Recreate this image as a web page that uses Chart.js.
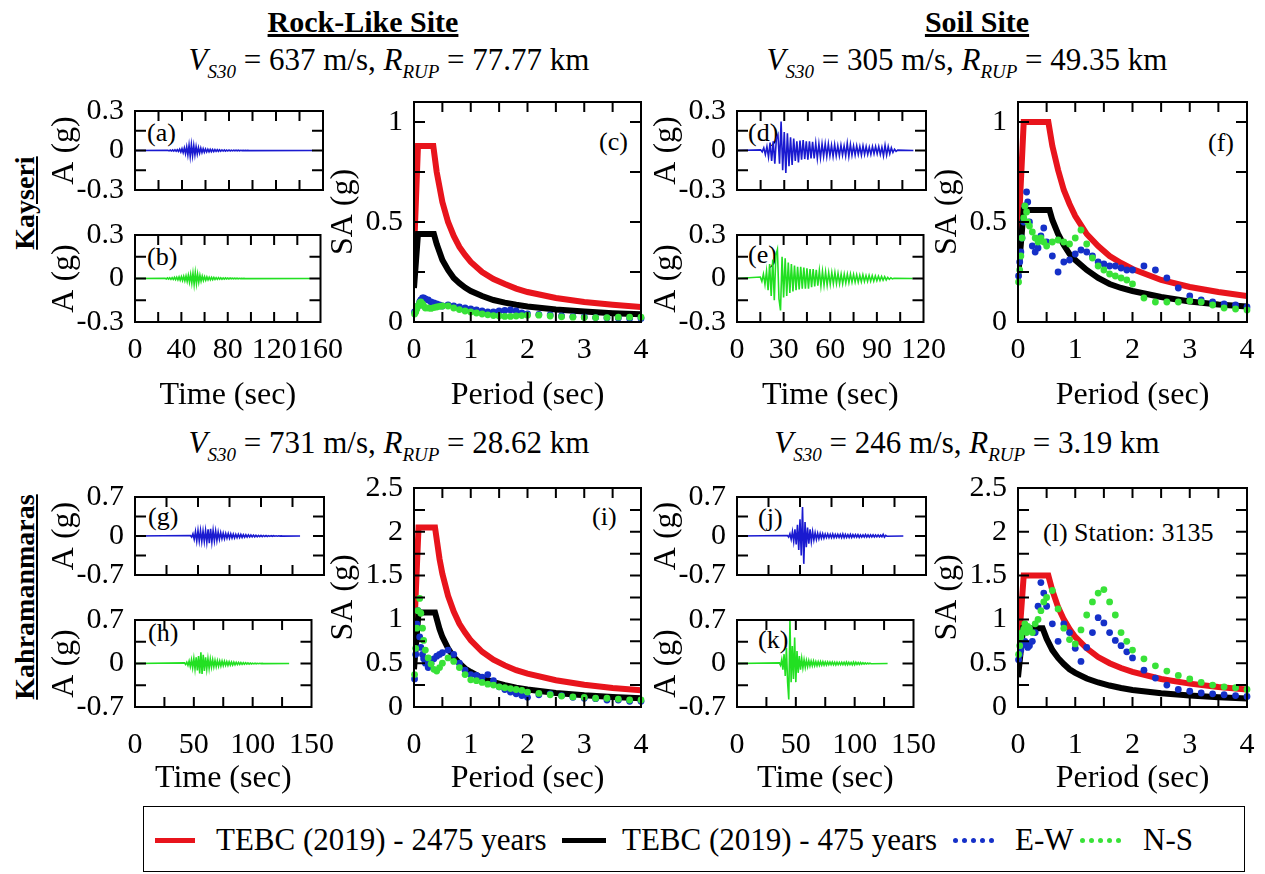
<!DOCTYPE html>
<html>
<head>
<meta charset="utf-8">
<script src="https://cdn.jsdelivr.net/npm/chart.js@4.4.1/dist/chart.umd.min.js"></script>
<style>
  body { margin: 0; background: #fff; }
  #fig { position: relative; width: 1265px; height: 874px; overflow: hidden;
         font-family: "Liberation Serif", "Times New Roman", serif; color: #000; }
  #fig canvas { position: absolute; }
  .t { position: absolute; white-space: nowrap; font-size: 31px; line-height: 36px; }
  .c { width: 800px; text-align: center; }
  .head { font-weight: bold; text-decoration: underline; font-size: 30px; }
  .s { font-size: 19px; position: relative; top: 8px; }
  .pl { position: absolute; white-space: nowrap; font-size: 26px; line-height: 34px; }
  .row { position: absolute; white-space: nowrap; font-size: 28px; line-height: 34px; font-weight: bold;
         text-decoration: underline; transform: translate(-50%, -50%) rotate(-90deg); }
  .lg { position: absolute; white-space: nowrap; font-size: 31px; line-height: 36px; top: 822px; }
  .dot { position: absolute; width: 5px; height: 5px; border-radius: 50%; top: 838px; }
</style>
</head>
<body>
<div id="fig">
  <div class="t head c" style="left:-37px;top:4px">Rock-Like Site</div>
  <div class="t head c" style="left:577px;top:4px">Soil Site</div>
  <div class="t c" style="left:-11px;top:42px"><i>V</i><span class="s"><i>S30</i></span> = 637 m/s, <i>R</i><span class="s"><i>RUP</i></span> = 77.77 km</div>
  <div class="t c" style="left:567px;top:42px"><i>V</i><span class="s"><i>S30</i></span> = 305 m/s, <i>R</i><span class="s"><i>RUP</i></span> = 49.35 km</div>
  <div class="t c" style="left:-11px;top:425px"><i>V</i><span class="s"><i>S30</i></span> = 731 m/s, <i>R</i><span class="s"><i>RUP</i></span> = 28.62 km</div>
  <div class="t c" style="left:567px;top:425px"><i>V</i><span class="s"><i>S30</i></span> = 246 m/s, <i>R</i><span class="s"><i>RUP</i></span> = 3.19 km</div>

  <div class="row" style="left:25px;top:203px">Kayseri</div>
  <div class="row" style="left:25px;top:597px">Kahramanmaras</div>

  <div class="pl" style="left:147px;top:116px">(a)</div>
  <div class="pl" style="left:147px;top:240px">(b)</div>
  <div class="pl" style="left:599px;top:125px">(c)</div>
  <div class="pl" style="left:748px;top:116px">(d)</div>
  <div class="pl" style="left:748px;top:238px">(e)</div>
  <div class="pl" style="left:1208px;top:126px">(f)</div>
  <div class="pl" style="left:148px;top:500px">(g)</div>
  <div class="pl" style="left:148px;top:616px">(h)</div>
  <div class="pl" style="left:592px;top:500px">(i)</div>
  <div class="pl" style="left:758px;top:501px">(j)</div>
  <div class="pl" style="left:758px;top:623px">(k)</div>
  <div class="pl" style="left:1043px;top:516px">(l) Station: 3135</div>

  <div style="position:absolute;left:143px;top:806px;width:1100px;height:64px;border:1.5px solid #000"></div>
  <div style="position:absolute;left:155px;top:838px;width:40px;height:5px;background:#e8141c"></div>
  <div class="lg" style="left:216px">TEBC (2019) - 2475 years</div>
  <div style="position:absolute;left:562px;top:838px;width:44px;height:5px;background:#000"></div>
  <div class="lg" style="left:622px">TEBC (2019) - 475 years</div>
  <div class="dot" style="left:953px;background:#1530c8"></div>
  <div class="dot" style="left:962px;background:#1530c8"></div>
  <div class="dot" style="left:971px;background:#1530c8"></div>
  <div class="dot" style="left:980px;background:#1530c8"></div>
  <div class="dot" style="left:989px;background:#1530c8"></div>
  <div class="lg" style="left:1015px">E-W</div>
  <div class="dot" style="left:1080px;background:#38e238"></div>
  <div class="dot" style="left:1089px;background:#38e238"></div>
  <div class="dot" style="left:1098px;background:#38e238"></div>
  <div class="dot" style="left:1107px;background:#38e238"></div>
  <div class="dot" style="left:1116px;background:#38e238"></div>
  <div class="lg" style="left:1143px">N-S</div>
</div>
<script>
// ---- acceleration records (g), one value per second from the start time ----
const dtAcc = 1;

const startA = 28, endA = 151;
const accA = [0.002,-0.003,0.003,-0.004,0.004,-0.005,0.005,-0.006,0.006,-0.007,
  0.01,-0.012,0.014,-0.016,0.02,-0.024,0.028,-0.034,0.04,-0.045,
  0.045,-0.04,0.038,-0.034,0.03,-0.026,0.022,-0.02,0.018,-0.016,
  0.014,-0.013,0.012,-0.011,0.01,-0.01,0.009,-0.009,0.008,-0.008,
  0.007,-0.007,0.006,-0.006,0.006,-0.005,0.005,-0.005,0.005,-0.004,
  0.004,-0.004,0.004,-0.003,0.003,-0.003,0.003,-0.002,0.002,-0.002,
  0.002,-0.002,0.002,-0.001,0.001,-0.001,0.001,-0.001,0.001,-0.001];

const startB = 26, endB = 151;
const accB = [0.002,-0.003,0.004,-0.004,0.005,-0.006,0.006,-0.007,0.008,-0.008,
  0.009,-0.01,0.011,-0.012,0.013,-0.014,0.015,-0.016,0.018,-0.02,
  0.022,-0.025,0.028,-0.032,0.036,-0.04,0.04,-0.036,0.03,-0.026,
  0.022,-0.019,0.016,-0.014,0.013,-0.012,0.011,-0.01,0.009,-0.009,
  0.008,-0.008,0.007,-0.007,0.006,-0.006,0.006,-0.005,0.005,-0.005,
  0.004,-0.004,0.004,-0.003,0.003,-0.003,0.003,-0.002,0.002,-0.002,
  0.002,-0.002,0.002,-0.002,0.001,-0.001,0.001,-0.001,0.001,-0.001];

const startD = 15, endD = 112;
const accD = [0.005,-0.01,0.02,-0.03,0.03,
  -0.05,0.06,-0.08,0.07,-0.1,0.09,
  0.12,-0.1,0.22,-0.15,0.14,-0.17,0.13,-0.12,0.1,-0.11,
  0.09,-0.08,0.07,-0.09,0.075,-0.07,0.08,-0.065,0.07,-0.07,
  0.07,-0.06,0.065,-0.06,0.055,-0.06,0.05,-0.055,0.05,-0.045,
  0.05,-0.045,0.05,-0.04,0.04,-0.045,0.045,-0.04,0.035,-0.04,
  0.04,-0.035,0.035,-0.04,0.055,-0.045,0.045,-0.035,0.035,-0.035,
  0.035,-0.03,0.03,-0.035,0.035,-0.03,0.03,-0.03,0.025,-0.03,
  0.03,-0.025,0.03,-0.025,0.03,-0.03,0.025,-0.04,0.04,-0.035,
  0.03,-0.025,0.02,-0.015,0.01,-0.006,0.003];

const startE = 15, endE = 113;
const accE = [0.01,-0.02,0.03,-0.04,0.05,
  -0.08,0.1,-0.12,0.13,-0.15,0.16,
  0.2,-0.14,-0.22,0.15,-0.13,0.14,-0.12,0.11,-0.1,0.1,
  -0.09,0.09,-0.08,0.08,-0.075,0.08,-0.07,0.075,-0.07,0.07,
  -0.07,0.065,-0.06,0.065,-0.055,0.06,-0.05,0.055,-0.05,0.05,
  -0.045,0.045,-0.045,0.04,-0.04,0.04,-0.035,0.04,-0.035,0.035,
  -0.035,0.03,-0.035,0.03,-0.03,0.03,-0.028,0.03,-0.025,0.028,
  -0.025,0.025,-0.025,0.022,-0.022,0.025,-0.02,0.02,-0.02,0.022,
  -0.018,0.02,-0.018,0.018,-0.015,0.016,-0.014,0.014,-0.012,0.012,
  -0.01,0.008,-0.006,0.005,-0.003,0.002];

const startG = 44, endG = 131;
const accG = [0.01,-0.02,0.04,-0.06,
  0.08,-0.09,0.1,-0.09,0.1,-0.1,0.09,-0.1,0.1,-0.11,
  0.12,-0.13,0.13,-0.11,0.1,-0.09,0.09,-0.08,0.07,-0.06,
  0.06,-0.05,0.05,-0.05,0.045,-0.04,0.045,-0.04,0.04,-0.035,
  0.035,-0.035,0.03,-0.03,0.03,-0.028,0.028,-0.025,0.025,-0.022,
  0.022,-0.02,0.02,-0.018,0.018,-0.016,0.016,-0.015,0.014,-0.013,
  0.012,-0.012,0.011,-0.01,0.01,-0.009,0.008,-0.008,0.007,-0.006,
  0.006,-0.005,0.005,-0.004,0.004,-0.003,0.003,-0.002,0.002,-0.002];

const startH = 42, endH = 131;
const accH = [0.01,-0.015,0.02,-0.03,0.04,-0.05,0.06,-0.07,
  0.08,-0.09,0.1,-0.11,0.12,-0.16,0.18,-0.17,0.14,-0.12,
  0.1,-0.09,0.08,-0.08,0.07,-0.06,0.06,-0.055,0.05,-0.05,
  0.045,-0.045,0.04,-0.04,0.04,-0.035,0.035,-0.03,0.03,-0.03,
  0.028,-0.026,0.025,-0.024,0.022,-0.02,0.02,-0.018,0.017,-0.016,
  0.015,-0.014,0.013,-0.012,0.011,-0.01,0.01,-0.009,0.008,-0.007,
  0.006,-0.006,0.005,-0.004,0.004,-0.003,0.003,-0.002,0.002,-0.002];

const startJ = 40, endJ = 132;
const accJ = [0.01,-0.02,0.04,-0.06,0.08,-0.1,0.12,-0.15,0.2,-0.25,
  0.3,-0.35,0.52,-0.5,0.25,-0.2,0.15,-0.14,0.12,-0.1,
  0.08,-0.07,0.06,-0.06,0.05,-0.05,0.045,-0.04,0.04,-0.04,
  0.035,-0.03,0.035,-0.03,0.03,-0.03,0.035,-0.03,0.03,-0.025,
  0.03,-0.025,0.03,-0.03,0.035,-0.03,0.03,-0.025,0.025,-0.025,
  0.03,-0.025,0.025,-0.02,0.025,-0.02,0.025,-0.025,0.02,-0.02,
  0.02,-0.02,0.025,-0.02,0.02,-0.02,0.02,-0.018,0.02,-0.018,
  0.018,-0.015,0.02,-0.015,0.015,-0.015,0.03,-0.02,0.01,-0.005];

const startK = 36, endK = 128;
const accK = [0.01,-0.03,0.06,-0.1,0.15,-0.2,0.25,-0.3,-0.58,0.7,
  -0.3,0.28,-0.25,0.42,-0.3,0.2,-0.15,0.12,-0.1,0.08,
  -0.07,0.06,-0.06,0.05,-0.05,0.045,-0.04,0.04,-0.035,0.04,
  -0.035,0.03,-0.035,0.03,-0.03,0.03,-0.025,0.03,-0.025,0.025,
  -0.025,0.025,-0.02,0.025,-0.02,0.025,-0.02,0.02,-0.025,0.02,
  -0.02,0.02,-0.02,0.02,-0.018,0.02,-0.02,0.025,-0.02,0.02,
  -0.018,0.018,-0.02,0.025,-0.02,0.02,-0.015,0.015,-0.015,0.015,
  -0.012,0.012,-0.01,0.01,-0.008,0.008,-0.005,0.005,-0.003];

// ---- response spectra (SA in g vs period in s) ----
const obsPeriods = [0.01,0.03,0.05,0.07,0.1,0.12,0.15,0.17,0.2,0.25,0.3,0.35,0.4,0.45,0.5,
  0.6,0.7,0.8,0.9,1.0,1.1,1.2,1.3,1.4,1.5,1.6,1.7,1.8,1.9,2.0,
  2.2,2.4,2.6,2.8,3.0,3.2,3.4,3.6,3.8,4.0];

// (c) Kayseri rock
const tRedC = [0,0.07,0.34,0.4,0.5,0.6,0.7,0.8,0.9,1.0,1.2,1.4,1.6,1.8,2.0,2.5,3.0,3.5,4.0];
const saRedC = [0.35,0.88,0.88,0.75,0.6,0.5,0.43,0.375,0.335,0.3,0.25,0.215,0.19,0.167,0.15,0.12,0.1,0.086,0.075];
const tBlkC = [0,0.07,0.35,0.4,0.5,0.6,0.7,0.8,0.9,1.0,1.2,1.4,1.6,1.8,2.0,2.5,3.0,3.5,4.0];
const saBlkC = [0.17,0.44,0.44,0.39,0.31,0.26,0.22,0.194,0.172,0.155,0.13,0.11,0.097,0.086,0.078,0.062,0.052,0.044,0.039];
const ewC = [0.05,0.055,0.07,0.08,0.1,0.11,0.12,0.12,0.115,0.11,0.1,0.095,0.09,0.085,0.08,
  0.085,0.08,0.075,0.07,0.065,0.06,0.055,0.05,0.05,0.055,0.058,0.06,0.055,0.045,0.04,
  0.038,0.035,0.03,0.027,0.025,0.022,0.02,0.02,0.018,0.018];
const nsC = [0.04,0.05,0.065,0.08,0.095,0.1,0.09,0.08,0.07,0.07,0.068,0.072,0.075,0.078,0.08,
  0.08,0.07,0.062,0.055,0.05,0.045,0.04,0.036,0.032,0.03,0.028,0.028,0.03,0.032,0.034,
  0.034,0.03,0.026,0.024,0.022,0.022,0.022,0.024,0.024,0.024];

// (f) Kayseri soil
const tRedF = [0,0.1,0.53,0.6,0.7,0.8,0.9,1.0,1.2,1.4,1.6,1.8,2.0,2.5,3.0,3.5,4.0];
const saRedF = [0.4,1.0,1.0,0.88,0.76,0.66,0.59,0.53,0.44,0.38,0.33,0.295,0.265,0.21,0.175,0.15,0.13];
const tBlkF = [0,0.1,0.55,0.6,0.7,0.8,0.9,1.0,1.2,1.4,1.6,1.8,2.0,2.5,3.0,3.5,4.0];
const saBlkF = [0.22,0.56,0.56,0.51,0.44,0.385,0.34,0.31,0.26,0.22,0.19,0.17,0.155,0.125,0.103,0.088,0.077];
const ewF = [0.23,0.3,0.35,0.42,0.5,0.58,0.65,0.6,0.5,0.38,0.35,0.37,0.43,0.47,0.4,
  0.33,0.25,0.3,0.31,0.34,0.36,0.35,0.33,0.3,0.29,0.28,0.28,0.27,0.26,0.26,
  0.28,0.26,0.22,0.17,0.13,0.11,0.1,0.09,0.085,0.075];
const nsF = [0.2,0.26,0.33,0.42,0.52,0.58,0.55,0.5,0.48,0.45,0.42,0.4,0.42,0.4,0.38,
  0.4,0.41,0.4,0.39,0.42,0.46,0.39,0.32,0.28,0.26,0.24,0.23,0.22,0.21,0.19,
  0.12,0.1,0.1,0.1,0.105,0.1,0.085,0.07,0.065,0.06];

// (i) Kahramanmaras rock
const tRedI = [0,0.08,0.37,0.45,0.5,0.6,0.7,0.8,0.9,1.0,1.2,1.4,1.6,1.8,2.0,2.5,3.0,3.5,4.0];
const saRedI = [0.82,2.05,2.05,1.69,1.52,1.27,1.09,0.95,0.85,0.76,0.63,0.54,0.475,0.42,0.38,0.305,0.255,0.217,0.19];
const tBlkI = [0,0.08,0.37,0.45,0.5,0.6,0.7,0.8,0.9,1.0,1.2,1.4,1.6,1.8,2.0,2.5,3.0,3.5,4.0];
const saBlkI = [0.43,1.08,1.08,0.89,0.8,0.67,0.57,0.5,0.44,0.4,0.33,0.285,0.25,0.22,0.2,0.16,0.133,0.114,0.1];
const ewI = [0.32,0.6,0.95,1.1,0.8,0.68,0.6,0.55,0.5,0.45,0.5,0.55,0.58,0.6,0.62,
  0.65,0.6,0.5,0.42,0.37,0.36,0.34,0.37,0.3,0.23,0.2,0.17,0.15,0.13,0.11,
  0.14,0.15,0.13,0.11,0.1,0.095,0.08,0.08,0.065,0.065];
const nsI = [0.37,0.67,0.9,1.1,1.24,1.07,0.9,0.76,0.65,0.56,0.49,0.43,0.41,0.45,0.5,
  0.56,0.52,0.45,0.37,0.31,0.3,0.28,0.26,0.25,0.23,0.22,0.21,0.2,0.19,0.17,
  0.155,0.14,0.125,0.115,0.11,0.1,0.1,0.09,0.08,0.08];

// (l) Kahramanmaras soil, station 3135
const tRedL = [0,0.1,0.53,0.6,0.7,0.8,0.9,1.0,1.2,1.4,1.6,1.8,2.0,2.5,3.0,3.5,4.0];
const saRedL = [0.6,1.5,1.5,1.33,1.14,1.0,0.89,0.8,0.67,0.57,0.5,0.445,0.4,0.32,0.267,0.229,0.2];
const tBlkL = [0,0.09,0.43,0.5,0.6,0.7,0.8,0.9,1.0,1.2,1.4,1.6,1.8,2.0,2.5,3.0,3.5,4.0];
const saBlkL = [0.34,0.9,0.9,0.78,0.65,0.56,0.49,0.43,0.39,0.325,0.28,0.245,0.217,0.195,0.156,0.13,0.111,0.098];
const ewL = [0.54,0.6,0.65,0.7,0.72,0.75,0.72,0.68,0.7,0.75,0.85,1.15,1.42,1.3,1.15,
  0.95,0.75,0.95,0.85,0.67,0.52,0.68,0.85,1.02,0.96,0.85,0.76,0.7,0.63,0.56,
  0.42,0.33,0.25,0.2,0.18,0.16,0.15,0.14,0.13,0.12];
const nsL = [0.6,0.7,0.8,0.85,0.89,0.95,0.85,0.92,0.9,0.85,0.95,1.0,1.1,1.2,1.25,
  1.33,1.12,0.9,0.77,0.72,0.88,1.05,1.2,1.3,1.34,1.2,1.05,0.85,0.75,0.65,
  0.55,0.47,0.41,0.36,0.32,0.28,0.25,0.23,0.22,0.2];

const BLUE_T = '#1a1ad0', GREEN_T = '#22e022';
const RED = '#e8141c', BLUE = '#1530c8', GREEN = '#38e238';

Chart.defaults.font.family = '"Liberation Serif", "Times New Roman", serif';
Chart.defaults.font.size = 30;
Chart.defaults.color = '#000';

const fig = document.getElementById('fig');

function fmt(v) { return String(Math.round(v * 100) / 100); }
function isMult(v, s) { return Math.abs(v / s - Math.round(v / s)) < 1e-6; }

function pairs(xs, ys) { return xs.map((x, i) => ({x: x, y: ys[i]})); }

function record(start, end, acc) {
  const pts = [{x: 0, y: 0}];
  acc.forEach((a, i) => pts.push({x: start + i * dtAcc, y: a}));
  pts.push({x: end, y: 0});
  return pts;
}

// box border and inward ticks on all four sides
const frame = {
  id: 'frame',
  afterDatasetsDraw(chart) {
    const {ctx, chartArea: a, scales: {x, y}} = chart;
    ctx.save();
    ctx.strokeStyle = '#000';
    ctx.lineWidth = 2;
    ctx.beginPath();
    x.ticks.forEach(t => {
      const px = x.getPixelForValue(t.value);
      if (px <= a.left + 1 || px >= a.right - 1) return;
      ctx.moveTo(px, a.bottom); ctx.lineTo(px, a.bottom - 10);
      ctx.moveTo(px, a.top); ctx.lineTo(px, a.top + 10);
    });
    y.ticks.forEach(t => {
      const py = y.getPixelForValue(t.value);
      if (py <= a.top + 1 || py >= a.bottom - 1) return;
      ctx.moveTo(a.left, py); ctx.lineTo(a.left + 11, py);
      ctx.moveTo(a.right, py); ctx.lineTo(a.right - 11, py);
    });
    ctx.stroke();
    ctx.strokeRect(a.left, a.top, a.width, a.height);
    ctx.restore();
  }
};

function panel(box, cfg) {
  const ML = 90, MR = 30, MT = 22;
  const MB = cfg.xTitle ? cfg.mb : 20;
  const cv = document.createElement('canvas');
  cv.width = ML + box.w + MR;
  cv.height = MT + box.h + MB;
  cv.style.left = (box.l - ML) + 'px';
  cv.style.top = (box.t - MT) + 'px';
  cv.style.width = cv.width + 'px';
  cv.style.height = cv.height + 'px';
  fig.appendChild(cv);

  new Chart(cv, {
    type: 'line',
    data: {datasets: cfg.datasets},
    options: {
      responsive: false,
      animation: false,
      devicePixelRatio: 1,
      layout: {padding: {left: 0, right: MR, top: MT, bottom: 0}},
      plugins: {legend: {display: false}, tooltip: {enabled: false}},
      scales: {
        x: {
          type: 'linear', min: cfg.xMin, max: cfg.xMax,
          border: {display: false},
          grid: {display: false, drawTicks: false},
          ticks: {
            stepSize: cfg.xStep, autoSkip: false, maxRotation: 0, minRotation: 0,
            padding: cfg.xPad || 10,
            callback: v => (cfg.xTitle && isMult(v, cfg.xLabel)) ? fmt(v) : ''
          },
          title: {display: !!cfg.xTitle, text: cfg.xTitle || '', padding: 0, font: {size: 32}},
          afterFit: s => { s.height = MB; }
        },
        y: {
          min: cfg.yMin, max: cfg.yMax,
          border: {display: false},
          grid: {display: false, drawTicks: false},
          ticks: {
            stepSize: cfg.yStep, autoSkip: false, padding: 11, includeBounds: false,
            callback: v => (isMult(v, cfg.yLabel) && v <= cfg.yTop + 1e-9) ? fmt(v) : ''
          },
          title: {display: true, text: cfg.yTitle, padding: 0, font: {size: 32}},
          afterFit: s => { s.width = ML; }
        }
      }
    },
    plugins: [frame]
  });
}

function trace(start, end, acc, color) {
  return {data: record(start, end, acc), borderColor: color, borderWidth: 1.6,
          pointRadius: 0, tension: 0};
}

function spectra(tRed, saRed, tBlk, saBlk, ew, ns) {
  return [
    {data: pairs(tRed, saRed), borderColor: RED, borderWidth: 6, pointRadius: 0, tension: 0, order: 3},
    {data: pairs(tBlk, saBlk), borderColor: '#000', borderWidth: 6, pointRadius: 0, tension: 0, order: 2},
    {data: pairs(obsPeriods, ew), showLine: false, pointRadius: 3.4, pointBorderWidth: 0,
     pointBackgroundColor: BLUE, borderColor: BLUE, clip: 5, order: 1},
    {data: pairs(obsPeriods, ns), showLine: false, pointRadius: 3.4, pointBorderWidth: 0,
     pointBackgroundColor: GREEN, borderColor: GREEN, clip: 5, order: 0}
  ];
}

// ---- top row: Kayseri ----
const th1 = {xMin: 0, xMax: 160, xStep: 20, xLabel: 40, yMin: -0.3, yMax: 0.3, yStep: 0.15,
             yLabel: 0.3, yTop: 0.3, yTitle: 'A (g)'};
panel({l: 135, t: 104, w: 188, h: 95}, {...th1, datasets: [trace(startA, endA, accA, BLUE_T)]});
panel({l: 135, t: 228, w: 188, h: 94}, {...th1, xTitle: 'Time (sec)', mb: 93, xPad: 10,
      datasets: [trace(startB, endB, accB, GREEN_T)]});

const th2 = {xMin: 0, xMax: 120, xStep: 15, xLabel: 30, yMin: -0.3, yMax: 0.3, yStep: 0.15,
             yLabel: 0.3, yTop: 0.3, yTitle: 'A (g)'};
panel({l: 737, t: 104, w: 189, h: 95}, {...th2, datasets: [trace(startD, endD, accD, BLUE_T)]});
panel({l: 737, t: 228, w: 189, h: 94}, {...th2, xTitle: 'Time (sec)', mb: 93, xPad: 10,
      datasets: [trace(startE, endE, accE, GREEN_T)]});

const sp1 = {xMin: 0, xMax: 4, xStep: 0.5, xLabel: 1, yMin: 0, yMax: 1.1, yStep: 0.25,
             yLabel: 0.5, yTop: 1, yTitle: 'SA (g)', xTitle: 'Period (sec)', mb: 93, xPad: 10};
panel({l: 414, t: 95, w: 227, h: 227}, {...sp1, datasets: spectra(tRedC, saRedC, tBlkC, saBlkC, ewC, nsC)});
panel({l: 1018, t: 95, w: 229, h: 227}, {...sp1, datasets: spectra(tRedF, saRedF, tBlkF, saBlkF, ewF, nsF)});

// ---- bottom row: Kahramanmaras ----
const th3 = {xMin: 0, xMax: 150, xStep: 25, xLabel: 50, yMin: -0.7, yMax: 0.7, yStep: 0.35,
             yLabel: 0.7, yTop: 0.7, yTitle: 'A (g)'};
panel({l: 135, t: 490, w: 189, h: 94}, {...th3, datasets: [trace(startG, endG, accG, BLUE_T)]});
panel({l: 135, t: 613, w: 189, h: 94}, {...th3, xTitle: 'Time (sec)', mb: 91, xPad: 20,
      datasets: [trace(startH, endH, accH, GREEN_T)]});
panel({l: 737, t: 490, w: 189, h: 94}, {...th3, datasets: [trace(startJ, endJ, accJ, BLUE_T)]});
panel({l: 737, t: 613, w: 189, h: 94}, {...th3, xTitle: 'Time (sec)', mb: 91, xPad: 20,
      datasets: [trace(startK, endK, accK, GREEN_T)]});

const sp2 = {xMin: 0, xMax: 4, xStep: 0.5, xLabel: 1, yMin: 0, yMax: 2.5, yStep: 0.25,
             yLabel: 0.5, yTop: 2.5, yTitle: 'SA (g)', xTitle: 'Period (sec)', mb: 91, xPad: 20};
panel({l: 414, t: 481, w: 227, h: 226}, {...sp2, datasets: spectra(tRedI, saRedI, tBlkI, saBlkI, ewI, nsI)});
panel({l: 1018, t: 481, w: 229, h: 226}, {...sp2, datasets: spectra(tRedL, saRedL, tBlkL, saBlkL, ewL, nsL)});
</script>
</body>
</html>
